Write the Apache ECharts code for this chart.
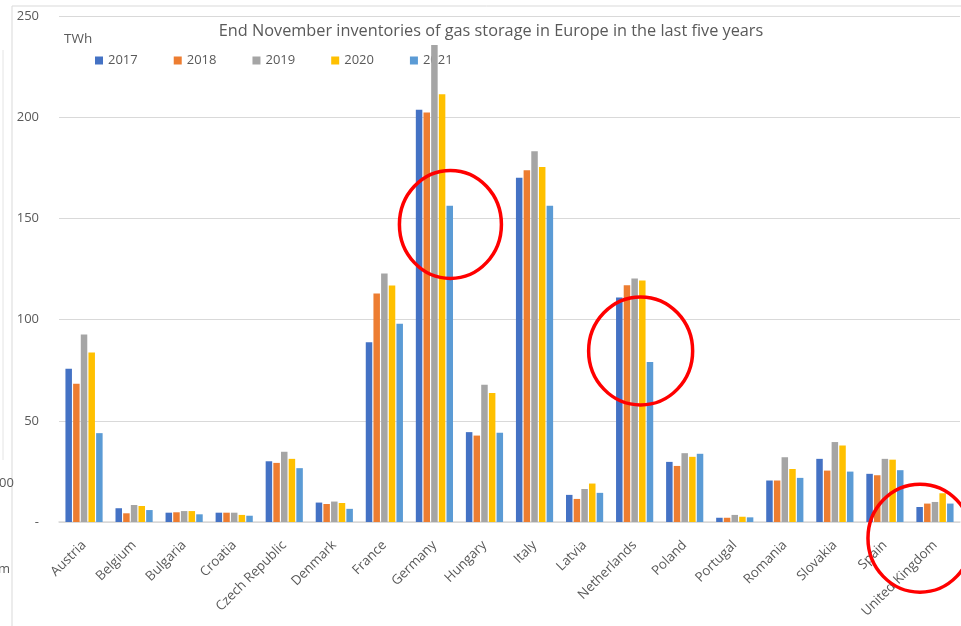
<!DOCTYPE html>
<html>
<head>
<meta charset="utf-8">
<script src="https://cdn.jsdelivr.net/npm/echarts@6/dist/echarts.min.js"></script>
<style>
  html, body { margin: 0; padding: 0; background: #fff; }
  #chart { width: 961px; height: 626px; }
</style>
</head>
<body>
<div id="chart"></div>
<script>
// Gas storage inventories at the end of November, TWh
var categories = ['Austria', 'Belgium', 'Bulgaria', 'Croatia', 'Czech Republic', 'Denmark', 'France',
  'Germany', 'Hungary', 'Italy', 'Latvia', 'Netherlands', 'Poland', 'Portugal', 'Romania',
  'Slovakia', 'Spain', 'United Kingdom'];
var years = ['2017', '2018', '2019', '2020', '2021'];
var y2017 = [75.7, 6.8, 4.6, 4.6, 30.0, 9.6, 88.8, 203.7, 44.4, 170.1, 13.4, 110.9, 29.7, 2.1, 20.5, 31.2, 23.8, 7.4];
var y2018 = [68.3, 4.3, 4.8, 4.6, 29.2, 8.9, 112.9, 202.3, 42.7, 173.8, 11.4, 117.0, 27.7, 2.1, 20.5, 25.4, 23.1, 9.1];
var y2019 = [92.6, 8.4, 5.4, 4.6, 34.7, 10.1, 122.8, 235.7, 67.8, 183.2, 16.3, 120.3, 34.0, 3.5, 32.0, 39.5, 31.2, 9.9];
var y2020 = [83.8, 7.9, 5.4, 3.5, 31.2, 9.4, 116.8, 211.4, 63.7, 175.4, 19.0, 119.3, 32.2, 2.6, 26.2, 37.8, 30.8, 14.2];
var y2021 = [43.9, 5.9, 3.8, 3.1, 26.6, 6.5, 97.9, 156.3, 44.1, 156.3, 14.4, 79.1, 33.7, 2.3, 21.8, 24.9, 25.6, 9.1];
var colors = ['#4472C4', '#ED7D31', '#A5A5A5', '#FFC000', '#5B9BD5'];

var FONT = '"Open Sans", "Noto Sans", sans-serif';
var TEXT = '#595959';
var LINE = '#D9D9D9';

var seriesData = [y2017, y2018, y2019, y2020, y2021];
var series = years.map(function (y, i) {
  return {
    name: y,
    type: 'bar',
    z: 3,
    data: seriesData[i],
    barWidth: 6.5,
    barGap: '18%',
    itemStyle: { color: colors[i] }
  };
});

var chart = echarts.init(document.getElementById('chart'), null, { renderer: 'canvas' });

chart.setOption({
  animation: false,
  backgroundColor: '#fff',
  color: colors,
  title: [{
    text: 'End November inventories of gas storage in Europe in the last five years',
    left: 486,
    top: 18,
    textAlign: 'center',
    textStyle: { fontFamily: FONT, fontSize: 16.3, fontWeight: 'normal', color: TEXT }
  }, {
    text: 'TWh',
    left: 59,
    top: 27,
    textStyle: { fontFamily: FONT, fontSize: 13.5, fontWeight: 'normal', color: TEXT }
  }],
  legend: {
    z: 1,
    left: 95,
    top: 54,
    padding: 0,
    icon: 'rect',
    itemWidth: 8,
    itemHeight: 8,
    itemGap: 36,
    textStyle: { fontFamily: FONT, fontSize: 13, color: TEXT },
    data: years
  },
  grid: { left: 59, right: 1, top: 16, bottom: 104, containLabel: false },
  xAxis: {
    type: 'category',
    data: categories,
    axisLine: { show: true, lineStyle: { color: LINE, width: 1.5 } },
    axisTick: { show: false },
    axisLabel: {
      rotate: 45,
      interval: 0,
      margin: 21,
      fontFamily: FONT,
      fontSize: 13.3,
      color: TEXT
    }
  },
  yAxis: {
    type: 'value',
    min: 0,
    max: 250,
    interval: 50,
    axisLine: { show: false },
    axisTick: { show: false },
    splitLine: { lineStyle: { color: LINE, width: 1.2 } },
    axisLabel: {
      margin: 20,
      fontFamily: FONT,
      fontSize: 13,
      color: TEXT,
      formatter: function (v) { return v === 0 ? '-' : String(v); }
    }
  },
  series: series
});

// Frame, stray fragments at the left edge, and the red annotation rings
function ring(catIndex, value, dx, rx, ry) {
  var p = chart.convertToPixel({ gridIndex: 0 }, [catIndex, value]);
  return {
    type: 'ellipse',
    z: 10,
    shape: { cx: p[0] + dx, cy: p[1], rx: rx, ry: ry },
    style: { fill: null, stroke: '#FF0000', lineWidth: 3.5 }
  };
}

chart.setOption({
  graphic: [
    { type: 'line', z: 0, shape: { x1: 12, y1: 6, x2: 961, y2: 6 }, style: { stroke: LINE, lineWidth: 1 } },
    { type: 'line', z: 0, shape: { x1: 12, y1: 6, x2: 12, y2: 626 }, style: { stroke: LINE, lineWidth: 1 } },
    { type: 'line', z: 0, shape: { x1: 3, y1: 50, x2: 3, y2: 460 }, style: { stroke: '#E4E4E4', lineWidth: 1 } },
    { type: 'text', z: 0, left: -1, top: 477, style: { text: '00', font: '13px ' + FONT, fill: TEXT } },
    { type: 'text', z: 0, left: -2, top: 563, style: { text: 'm', font: '13px ' + FONT, fill: TEXT } },
    ring(7, 147, 16, 51, 54),
    ring(11, 84.5, 6, 52, 54),
    ring(17, -8, -15, 52, 54)
  ]
});
</script>
</body>
</html>
